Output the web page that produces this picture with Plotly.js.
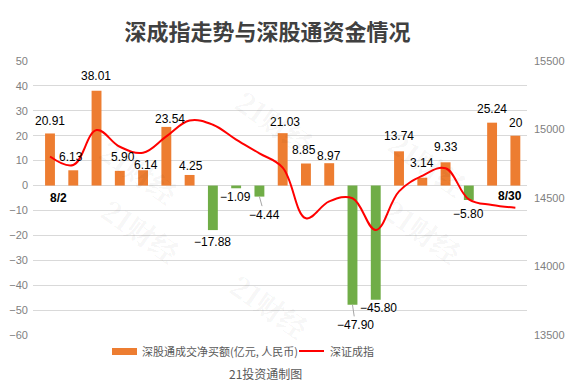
<!DOCTYPE html>
<html>
<head>
<meta charset="utf-8">
<script src="https://cdn.plot.ly/plotly-3.0.1.min.js"></script>
<style>html,body{margin:0;padding:0;background:#fff;}#chart{width:573px;height:392px;}</style>
</head>
<body>
<div id="chart"></div>
<script>
// ---- data ----
const dates = ["8/2","8/3","8/4","8/5","8/6","8/9","8/10","8/11","8/12","8/13","8/16","8/17","8/18","8/19","8/20","8/23","8/24","8/25","8/26","8/27","8/30"];
const netBuy = [20.91, 6.13, 38.01, 5.90, 6.14, 23.54, 4.25, -17.88, -1.09, -4.44, 21.03, 8.85, 8.97, -47.90, -45.80, 13.74, 3.14, 9.33, -5.80, 25.24, 20];
const netBuyLabels = ["20.91","6.13","38.01","5.90","6.14","23.54","4.25","-17.88","-1.09","-4.44","21.03","8.85","8.97","-47.90","-45.80","13.74","3.14","9.33","-5.80","25.24","20"];
const szIndex = [14803, 14741, 14996, 14874, 14831, 14950, 15066, 15035, 14926, 14826, 14722, 14352, 14475, 14498, 14266, 14548, 14662, 14717, 14490, 14449, 14429];
const leftTicks = [-60,-50,-40,-30,-20,-10,0,10,20,30,40,50];
const rightTicks = [13500,14000,14500,15000,15500];

// ---- label nudges (px) ----
const labDx = [0,-2,-1,3,3,4,1,0,-1,5,2,-2,0,3,3,0,0,0,0,0,1];
const labDy = [-12,-13,-15,-14,-5,-8,-9,12,9,18,-11,-14,-7,20,8,-15,-15,-15,14,-14,-13];
const arrowIdx = [9,13];

// ---- watermark spots (px) ----
const wmX = [90, 275, 478, 92, 473, 270];
const wmY = [128, 78, 120, 275, 275, 350];

const L = 33, R = 527, T = 61, B = 335, W = 573, H = 392;
const px = x => (x - L) / (R - L);
const py = y => (B - y) / (B - T);

const orange = '#ED7D31', green = '#70AD47', red = '#FF0000';
const font = 'Liberation Sans, Arial, sans-serif';
const cjk = '"Noto Sans CJK SC", sans-serif';

const bar = {
  type: 'bar', x: dates, y: netBuy, yaxis: 'y',
  marker: {color: netBuy.map(v => v >= 0 ? orange : green)},
  hoverinfo: 'skip', showlegend: false
};
const line = {
  type: 'scatter', mode: 'lines', x: dates, y: szIndex, yaxis: 'y2',
  line: {color: red, width: 2, shape: 'spline', smoothing: 1.1},
  hoverinfo: 'skip', showlegend: false
};

const annotations = [];
// watermarks (drawn first, underneath)
wmX.forEach((x, i) => annotations.push({
  x: px(x), y: py(wmY[i]), xref: 'paper', yref: 'paper', showarrow: false, textangle: 35,
  text: '<b>21财经</b>', font: {family: '"Noto Serif CJK SC", "Noto Sans CJK SC", serif', size: 28, color: 'rgba(0,0,0,0.055)'}
}));
netBuy.forEach((v, i) => {
  const a = {
    x: dates[i], y: v, xref: 'x', yref: 'y', text: netBuyLabels[i].replace('-', '\u2212'),
    font: {family: font, size: 12, color: '#000'},
  };
  if (arrowIdx.includes(i)) {
    Object.assign(a, {showarrow: true, arrowhead: 0, arrowwidth: 1, arrowcolor: '#a6a6a6', ax: labDx[i], ay: labDy[i], standoff: 0});
  } else {
    Object.assign(a, {showarrow: false, xanchor: 'center', yanchor: 'middle', xshift: labDx[i], yshift: -labDy[i]});
  }
  annotations.push(a);
});
// date markers
annotations.push({x: dates[0], y: 0, xref: 'x', yref: 'y', text: '<b>8/2</b>', showarrow: false, xshift: 8, yshift: -12, font: {family: font, size: 12, color: '#000'}});
annotations.push({x: dates[dates.length-1], y: 0, xref: 'x', yref: 'y', text: '<b>8/30</b>', showarrow: false, xshift: -5, yshift: -10, font: {family: font, size: 12, color: '#000'}});
// legend texts
annotations.push({x: px(140), y: py(351), xref: 'paper', yref: 'paper', xanchor: 'left', yanchor: 'middle', showarrow: false, text: '深股通成交净买额(亿元, 人民币)', font: {family: cjk, size: 11, color: '#595959'}});
annotations.push({x: px(328), y: py(351), xref: 'paper', yref: 'paper', xanchor: 'left', yanchor: 'middle', showarrow: false, text: '深证成指', font: {family: cjk, size: 11, color: '#595959'}});
annotations.push({x: px(265), y: py(373), xref: 'paper', yref: 'paper', xanchor: 'center', yanchor: 'middle', showarrow: false, text: '21投资通制图', font: {family: cjk, size: 12, color: '#595959'}});

const shapes = [
  {type: 'rect', xref: 'paper', yref: 'paper', x0: px(112), x1: px(137), y0: py(355), y1: py(348), fillcolor: orange, line: {width: 0}},
  {type: 'line', xref: 'paper', yref: 'paper', x0: px(299), x1: px(324), y0: py(351), y1: py(351), line: {color: red, width: 2}}
];

const layout = {
  width: W, height: H,
  margin: {l: L, r: W - R, t: T, b: H - B, pad: 0},
  paper_bgcolor: '#fff', plot_bgcolor: '#fff',
  title: {text: '深成指走势与深股通资金情况', x: 267.5 / W, xref: 'container', xanchor: 'center', y: 1 - 32/H, yanchor: 'middle',
          font: {family: cjk, size: 22, color: '#404040', weight: 'bold'}},
  bargap: 0.575,
  xaxis: {type: 'category', showticklabels: false, showgrid: false, zeroline: false, showline: false, ticks: ''},
  yaxis: {range: [-60, 50], tickvals: leftTicks, ticktext: leftTicks.map(v => String(v).replace('-', '\u2212')),
          showgrid: true, gridcolor: '#d9d9d9', gridwidth: 1, zeroline: false, showline: false,
          tickfont: {family: font, size: 11, color: '#7f7f7f'}, ticks: '', ticklabelstandoff: 4},
  yaxis2: {range: [13500, 15500], tickvals: rightTicks, ticktext: rightTicks.map(String), overlaying: 'y', side: 'right', showgrid: false, zeroline: false,
           showline: false, tickfont: {family: font, size: 11, color: '#7f7f7f'}, ticks: '', ticklabelstandoff: 6},
  annotations: annotations,
  shapes: shapes,
  showlegend: false
};

Plotly.newPlot('chart', [bar, line], layout, {staticPlot: true, displayModeBar: false});
</script>
</body>
</html>
